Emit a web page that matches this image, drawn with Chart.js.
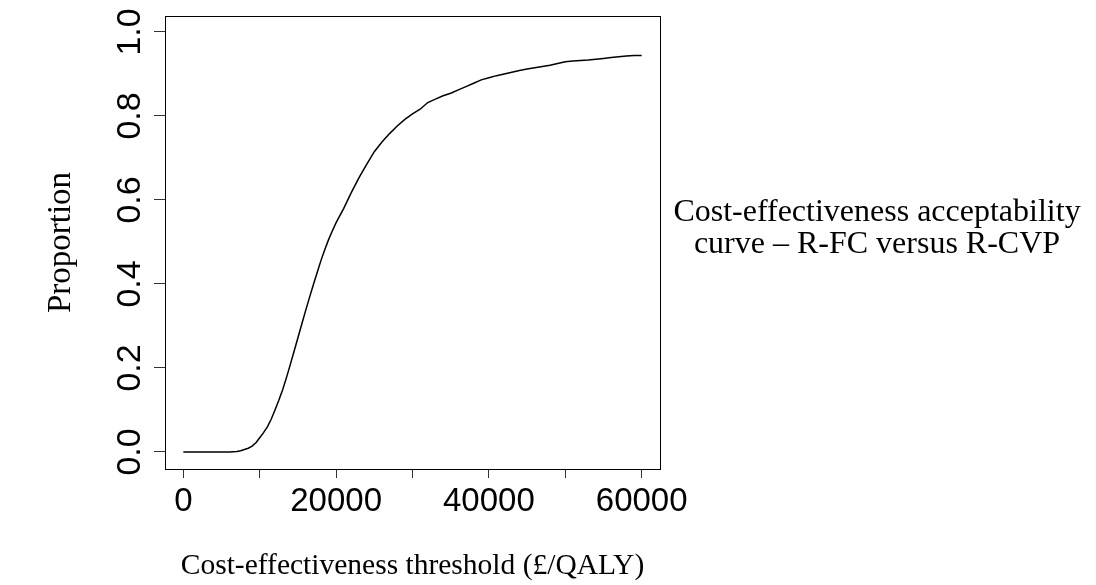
<!DOCTYPE html>
<html>
<head>
<meta charset="utf-8">
<script src="https://cdn.jsdelivr.net/npm/chart.js@4.4.1/dist/chart.umd.min.js"></script>
<style>
  html, body { margin: 0; padding: 0; background: #fff; }
  #wrap { width: 1096px; height: 585px; }
</style>
</head>
<body>
<div id="wrap"><canvas id="ceac"></canvas></div>
<script>
// Willingness-to-pay thresholds (£/QALY) and probability R-FC is cost-effective
const thresholds = [
  0, 1000, 2000, 3000, 4000, 5000, 6000, 7000, 7500, 8000, 8500, 9000, 9500,
  10000, 10500, 11000, 11500, 12000, 12500, 13000, 13500, 14000, 14500,
  15000, 15500, 16000, 16500, 17000, 17500, 18000, 18500, 19000, 19500,
  20000, 21000, 22000, 23000, 24000, 25000, 26000, 27000, 28000, 29000,
  30000, 31000, 32000, 33000, 34000, 35000, 36000, 37000, 38000, 39000,
  40000, 41000, 42000, 43000, 44000, 45000, 46000, 47000, 48000, 49000,
  50000, 51000, 52000, 53000, 54000, 55000, 56000, 57000, 58000, 59000, 60000
];
const proportion = [
  0, 0, 0, 0, 0, 0, 0, 0.001, 0.003, 0.006, 0.009, 0.014, 0.022,
  0.034, 0.046, 0.06, 0.078, 0.10, 0.123, 0.148, 0.177, 0.208, 0.24,
  0.272, 0.304, 0.336, 0.367, 0.397, 0.426, 0.455, 0.481, 0.505, 0.526,
  0.546, 0.58, 0.618, 0.653, 0.685, 0.715, 0.738, 0.758, 0.776, 0.792,
  0.805, 0.816, 0.832, 0.84, 0.848, 0.854, 0.862, 0.87, 0.878, 0.886,
  0.891, 0.896, 0.9, 0.904, 0.908, 0.912, 0.915, 0.918, 0.921, 0.925,
  0.929, 0.931, 0.932, 0.933, 0.935, 0.937, 0.939, 0.941, 0.943, 0.944, 0.944
];
const xTicks = [0, 10000, 20000, 30000, 40000, 50000, 60000];
const xLabels = [0, 20000, 40000, 60000];
const yTicks = [0, 0.2, 0.4, 0.6, 0.8, 1.0];
const titleLines = ["Cost-effectiveness acceptability", "curve \u2013 R-FC versus R-CVP"];

const sans = "'Liberation Sans', Arial, Helvetica, sans-serif";
const serif = "'Liberation Serif', 'Times New Roman', Times, serif";

// box around the plot region, like base R graphics
const frame = {
  id: "frame",
  afterDatasetsDraw(chart) {
    const { ctx, chartArea: a } = chart;
    ctx.save();
    ctx.strokeStyle = "#000";
    ctx.lineWidth = 1;
    ctx.strokeRect(Math.round(a.left) + 0.5, Math.round(a.top) + 0.5,
      Math.round(a.right - a.left), Math.round(a.bottom - a.top));
    ctx.restore();
  }
};

// two-line caption to the right of the plot
const sideTitle = {
  id: "sideTitle",
  afterDraw(chart) {
    const ctx = chart.ctx;
    ctx.save();
    ctx.fillStyle = "#000";
    ctx.font = "32px " + serif;
    ctx.textAlign = "center";
    ctx.textBaseline = "alphabetic";
    ctx.fillText(titleLines[0], 877, 221);
    ctx.fillText(titleLines[1], 877, 253);
    ctx.restore();
  }
};

new Chart(document.getElementById("ceac"), {
  type: "line",
  data: {
    datasets: [{
      data: thresholds.map((t, i) => ({ x: t, y: proportion[i] })),
      borderColor: "#000",
      borderWidth: 1.5,
      pointRadius: 0,
      tension: 0,
      fill: false
    }]
  },
  options: {
    responsive: true,
    maintainAspectRatio: false,
    animation: false,
    devicePixelRatio: 1,
    layout: { padding: { left: 0, top: 16, right: 436, bottom: 0 } },
    plugins: { legend: { display: false }, tooltip: { enabled: false } },
    scales: {
      x: {
        type: "linear",
        min: -2400,
        max: 62400,
        afterBuildTicks: (s) => { s.ticks = xTicks.map((v) => ({ value: v })); },
        afterFit: (s) => { s.height = 116; s.paddingLeft = 0; s.paddingRight = 0; },
        grid: { drawOnChartArea: false, drawTicks: true, tickLength: 9, tickColor: "#333", lineWidth: 1 },
        border: { display: false },
        ticks: {
          autoSkip: false,
          maxRotation: 0,
          padding: 4,
          color: "#000",
          font: { family: sans, size: 33 },
          callback: (v) => (xLabels.includes(v) ? String(v) : "")
        },
        title: {
          display: true,
          text: "Cost-effectiveness threshold (\u00a3/QALY)",
          color: "#000",
          font: { family: serif, size: 29.5 },
          padding: { top: 0, bottom: 1 }
        }
      },
      y: {
        type: "linear",
        min: -0.0405,
        max: 1.038,
        afterBuildTicks: (s) => { s.ticks = yTicks.map((v) => ({ value: v })); },
        afterFit: (s) => { s.width = 165; s.paddingTop = 0; s.paddingBottom = 0; },
        grid: { drawOnChartArea: false, drawTicks: true, tickLength: 11, tickColor: "#333", lineWidth: 1 },
        border: { display: false },
        ticks: {
          minRotation: 90,
          maxRotation: 90,
          crossAlign: "center",
          padding: 0,
          color: "#000",
          font: { family: sans, size: 34 },
          callback: (v) => v.toFixed(1)
        },
        title: {
          display: true,
          text: "Proportion",
          color: "#000",
          font: { family: serif, size: 33 },
          padding: { top: 42, bottom: 0 }
        }
      }
    }
  },
  plugins: [frame, sideTitle]
});
</script>
</body>
</html>
